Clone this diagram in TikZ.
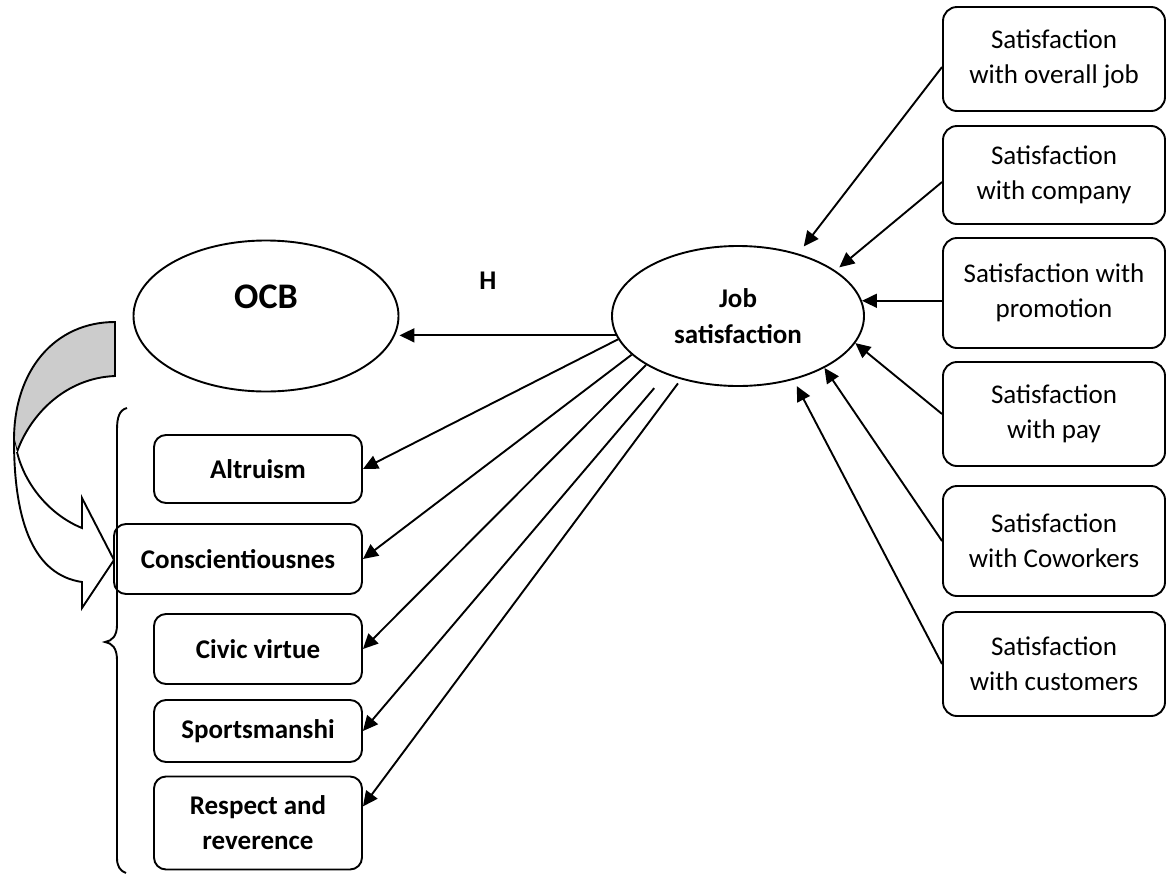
\documentclass[tikz,border=0pt]{standalone}
\usepackage{fontspec}
\setmainfont{Carlito}
\usepackage{tikz}
\usetikzlibrary{arrows.meta}
\usetikzlibrary{shapes.geometric}

\begin{document}
\begin{tikzpicture}[x=1pt, y=-1pt, line width=1.9pt,
  txt/.style={font=\fontsize{27}{35}\selectfont, align=center},
  factor/.style={txt, draw, rounded corners=14pt, minimum width=222pt, minimum height=104pt},
  dim/.style={txt, font=\fontsize{27}{35}\selectfont\bfseries, draw, rounded corners=12pt, minimum width=208pt},
  oval/.style={draw, ellipse},
  link/.style={-{Triangle[length=15pt,width=14pt]}}]

\useasboundingbox (0, 0) rectangle (1167, 873);

% Draw Ellipses
\node[oval, minimum width=265pt, minimum height=151pt] (ocb) at (266, 316) {};
\node[txt, font=\fontsize{36}{40}\selectfont\bfseries] (ocbname) at (266, 297) {OCB};
\node[oval, txt, font=\fontsize{27}{36}\selectfont\bfseries, minimum width=252pt, minimum height=140pt] (js) at (738, 316) {Job\\satisfaction};
\node[txt, font=\fontsize{27}{30}\selectfont\bfseries] (hyp) at (488, 281) {H};

% Draw Right Boxes
\node[factor] (s1) at (1054, 59) {Satisfaction\\with overall job};
\node[factor, minimum height=98pt] (s2) at (1054, 175) {Satisfaction\\with company};
\node[factor, minimum height=110pt] (s3) at (1054, 293) {Satisfaction with\\promotion};
\node[factor] (s4) at (1054, 414) {Satisfaction\\with pay};
\node[factor, minimum height=110pt] (s5) at (1054, 541) {Satisfaction\\with Coworkers};
\node[factor] (s6) at (1054, 664) {Satisfaction\\with customers};

% Draw Left Boxes
\node[dim, minimum height=68pt] (alt) at (258, 469) {Altruism};
\node[dim, minimum width=248pt, minimum height=70pt] (con) at (238, 559) {Conscientiousnes};
\node[dim, minimum height=70pt] (civ) at (258, 649) {Civic virtue};
\node[dim, minimum height=62pt] (spo) at (258, 731) {Sportsmanshi};
\node[dim, minimum height=93pt] (res) at (258, 823) {Respect and\\reverence};

% Draw Arrows into Job satisfaction
\draw[link, shorten >=9pt] ([yshift=-8pt]s1.west) -- (js.46);
\draw[link, shorten >=5pt] ([yshift=-7pt]s2.west) -- (js.25);
\draw[link] (js.7 -| s3.west) -- (js.7);
\draw[link] (s4.west) -- (js.-13);
\draw[link] (s5.west) -- (js.-31);
\draw[link, shorten >=7pt] (s6.west) -- (js.-49);

% Draw Arrows out of Job satisfaction
\draw[link] (js.189) -- (js.189 -| ocb.east);
\draw[link] (js.191) -- (alt.east);
\draw[link] (js.200) -- (con.east);
\draw[link] (js.208) -- (civ.east);
\draw[link, shorten <=18pt] (js.219) -- (spo.east);
\draw[link, shorten <=5pt] (js.228) -- (res.9);

% Draw Brace
\draw[] (127, 408) .. controls (119, 410) and (117, 418) .. (117, 430) -- (117, 625)
  .. controls (117, 636) and (112, 641) .. (105, 642)
  .. controls (112, 643) and (117, 648) .. (117, 660) -- (117, 858)
  .. controls (117, 866) and (120, 871) .. (126, 873);

% Draw Curved Arrow
\filldraw[fill=gray!40] (115, 322) .. controls (55, 322) and (14, 370) .. (14, 440) -- (17, 452)
  .. controls (30, 415) and (65, 378) .. (115, 376) -- cycle;
\draw[fill=white] (14, 440) .. controls (14, 525) and (35, 575) .. (82, 582) -- (82, 608) -- (114, 560)
  -- (82, 498) -- (82, 528) .. controls (50, 515) and (25, 485) .. (17, 452);
\end{tikzpicture}
\end{document}
